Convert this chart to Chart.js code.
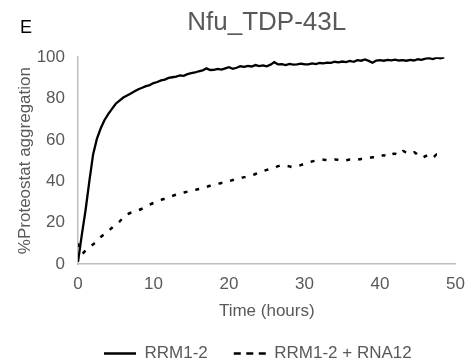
<!DOCTYPE html>
<html>
<head>
<meta charset="utf-8">
<script src="https://cdn.jsdelivr.net/npm/chart.js@4"></script>
<style>
  html, body { margin: 0; padding: 0; background: #fff; }
  #wrap { width: 475px; height: 364px; }
</style>
</head>
<body>
<div id="wrap"><canvas id="mycanvas"></canvas></div>
<script>
// time points (hours)
var hours = [];
for (var h = 0; h <= 48.5; h += 0.5) hours.push(h);

// RRM1-2, every 0.5 h
var rrm12 = [
  1, 14, 26, 40, 53, 60.5, 65.5, 69.5, 72.5, 75,
  77.5, 79, 80.5, 81.5, 82.5, 83.5, 84.5, 85.2, 86, 86.5,
  87.5, 88, 88.8, 89.2, 90, 90.3, 90.6, 91.2, 91, 91.8,
  92.3, 92.6, 93.2, 93.6, 94.6, 93.8, 93.9, 94.3, 94, 94.6,
  95.2, 94.4, 94.9, 95.6, 95.3, 95.8, 95.5, 96.2, 95.7, 96,
  95.6, 96.4, 97.6, 96.5, 96.6, 96.2, 96.8, 96.4, 96.5, 96.9,
  96.6, 96.5, 97, 96.7, 97.2, 97, 97.4, 97.3, 97.8, 97.5,
  97.9, 97.6, 98.2, 97.8, 98.6, 98.3, 98.9, 98.2, 97.3, 98.4,
  98.6, 98.3, 98.7, 98.5, 98.8, 98.4, 98.6, 98.3, 98.7, 98.4,
  99, 98.7, 99.3, 99.6, 99.1, 99.8, 99.4, 99.9
];

// RRM1-2 + RNA12
var rrm12Rna12 = [
  10, 5, 6.5, 8, 9.5, 11, 13, 14.5, 16, 17.5,
  19, 20.5, 22.5, 24, 24.8, 25.3, 26, 26.8, 27.8, 28.7,
  29.5, 30.2, 31, 31.6, 32.2, 32.9, 33.5, 34, 34.5, 35,
  35.3, 35.8, 36.3, 36.8, 37.3, 37.8, 38.2, 38.7, 39.2, 39.6,
  40, 40.6, 41.2, 41.5, 42, 42.3, 42.8, 43.5, 44.2, 44.8,
  45.5, 46, 46.5, 47.3, 47.8, 47.5, 47.2, 46.8, 47.2, 47.8,
  48.5, 49.2, 49.6, 50, 50.2, 50.4, 50.3, 50.2, 50.5, 50.3,
  50, 50.2, 50.5, 50.3, 50.4, 50.8, 51, 51.3, 51.6, 51.4,
  52, 52.6, 51.8, 53, 53.3, 52.6, 54.6, 53.8, 53.2, 54,
  52.8, 51.4, 52.1, 52.8, 51.5, 53, 52.7, 53
];

var seriesNames = ["RRM1-2", "RRM1-2 + RNA12"];
var xTicks = [0, 10, 20, 30, 40, 50];
var yTicks = [0, 20, 40, 60, 80, 100];

function toPoints(vals) {
  return vals.map(function (v, i) { return { x: hours[i], y: v }; });
}

var grey = "#595959";
var fam = "'Liberation Sans', Arial, sans-serif";

var panelLetter = {
  id: "panelLetter",
  afterDraw: function (chart) {
    var c = chart.ctx;
    c.save();
    c.fillStyle = "#000";
    c.font = "18px " + fam;
    c.textBaseline = "middle";
    c.fillText("E", 20, 28);
    c.restore();
  }
};

var legendDash = [[], [7, 5.5]];

var chartdata = {
  datasets: [
    {
      label: seriesNames[0],
      data: toPoints(rrm12),
      borderColor: "#000",
      backgroundColor: "#000",
      borderWidth: 2.3,
      pointRadius: 0,
      fill: false,
      tension: 0
    },
    {
      label: seriesNames[1],
      data: toPoints(rrm12Rna12),
      borderColor: "#000",
      backgroundColor: "#000",
      borderWidth: 2.5,
      borderDash: [4, 8],
      pointRadius: 0,
      fill: false,
      tension: 0.3
    }
  ]
};

var ctx = document.getElementById("mycanvas");
var LineGraph = new Chart(ctx, {
  type: "line",
  data: chartdata,
  plugins: [panelLetter],
  options: {
    responsive: true,
    maintainAspectRatio: false,
    animation: false,
    layout: { padding: { left: 0, right: 13, top: 0, bottom: 0 } },
    plugins: {
      tooltip: { enabled: false },
      title: {
        display: true,
        fullSize: false,
        text: "Nfu_TDP-43L",
        color: grey,
        font: { family: fam, size: 26, weight: "normal" },
        padding: { top: 7, bottom: 19 }
      },
      legend: {
        position: "bottom",
        fullSize: false,
        align: "start",
        maxHeight: 45,
        labels: {
          color: grey,
          font: { family: fam, size: 17 },
          usePointStyle: true,
          pointStyle: "line",
          pointStyleWidth: 32,
          boxHeight: 17,
          padding: 26,
          generateLabels: function (chart) {
            var items = Chart.defaults.plugins.legend.labels.generateLabels(chart);
            items.forEach(function (it, i) {
              it.lineDash = legendDash[i];
              it.lineWidth = 2.3;
              it.strokeStyle = "#000";
            });
            return items;
          }
        }
      }
    },
    scales: {
      x: {
        type: "linear",
        min: 0,
        max: 50,
        afterBuildTicks: function (s) { s.ticks = xTicks.map(function (v) { return { value: v }; }); },
        afterFit: function (s) { s.height = 55; },
        grid: { display: false, drawTicks: false },
        border: { display: true, color: "#bfbfbf", width: 1.5 },
        ticks: { color: grey, font: { family: fam, size: 17 }, padding: 10, maxRotation: 0 },
        title: {
          display: true,
          text: "Time (hours)",
          color: grey,
          font: { family: fam, size: 17 },
          padding: { top: 0, bottom: -3 }
        }
      },
      y: {
        min: 0,
        max: 100,
        afterBuildTicks: function (s) { s.ticks = yTicks.map(function (v) { return { value: v }; }); },
        afterFit: function (s) { s.width = 78; },
        grid: { display: false, drawTicks: false },
        border: { display: true, color: "#bfbfbf", width: 1.5 },
        ticks: { color: grey, font: { family: fam, size: 17 }, padding: 13 },
        title: {
          display: true,
          text: "%Proteostat aggregation",
          color: grey,
          font: { family: fam, size: 17 },
          padding: { top: 15, bottom: 0 }
        }
      }
    }
  }
});
</script>
</body>
</html>
